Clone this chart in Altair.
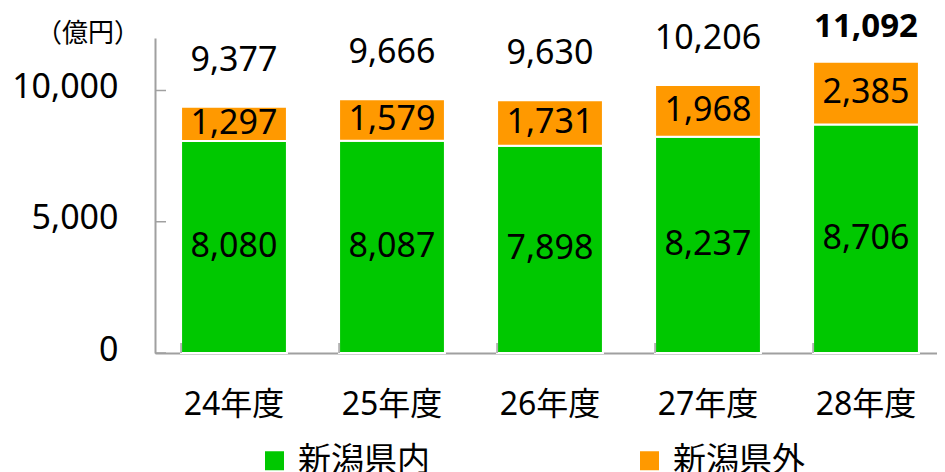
import altair as alt
import pandas as pd

categories = ["24年度", "25年度", "26年度", "27年度", "28年度"]
inside = [8080, 8087, 7898, 8237, 8706]
outside = [1297, 1579, 1731, 1968, 2385]
totals = [9377, 9666, 9630, 10206, 11092]
series = ["新潟県内", "新潟県外"]
colors = ["#00C800", "#FF9900"]
y_ticks = [0, 5000, 10000]
unit = ["（億円）"]

FONT = "Noto Sans, Noto Sans CJK JP"
GRAY = "#A0A0A0"
W, H = 782, 315
XRANGE = 790

rows = []
for c, a, b in zip(categories, inside, outside):
    rows.append({"cat": c, "series": series[0], "value": a, "order": 0})
    rows.append({"cat": c, "series": series[1], "value": b, "order": 1})
df = pd.DataFrame(rows)
tot_df = pd.DataFrame({"cat": categories, "total": totals})
tick_df = pd.DataFrame({"tick": y_ticks})
unit_df = pd.DataFrame({"t": unit})

yscale = alt.Scale(domain=[0, 12000], nice=False)

bars = alt.Chart(df).mark_bar(stroke="white", strokeWidth=2).encode(
    x=alt.X("cat:N", sort=categories,
            scale=alt.Scale(paddingInner=0.33, paddingOuter=0.165, range=[0, XRANGE]),
            axis=alt.Axis(title=None, labelFontSize=32, labelPadding=36, ticks=False,
                          domainColor=GRAY, domainWidth=2, labelAngle=0,
                          labelColor="black", labelFont=FONT)),
    y=alt.Y("value:Q", stack="zero", scale=yscale,
            axis=alt.Axis(values=y_ticks, format=",d", title=None, grid=False, ticks=False,
                          labelFontSize=34, labelPadding=37, labelOffset=-3,
                          domainColor=GRAY, domainWidth=2, labelColor="black",
                          labelFont=FONT)),
    color=alt.Color("series:N", sort=series,
                    scale=alt.Scale(domain=series, range=colors),
                    legend=alt.Legend(title=None, orient="none", legendX=103, legendY=406,
                                      direction="horizontal", symbolType="square",
                                      symbolSize=361, symbolStrokeWidth=0,
                                      labelFontSize=33, labelFont=FONT, labelColor="black",
                                      labelOffset=7, columnPadding=203, padding=0)),
    order=alt.Order("order:Q"),
)

inner = alt.Chart(df).transform_stack(
    stack="value", groupby=["cat"], as_=["y0", "y1"], sort=[alt.SortField("order")]
).transform_calculate(mid="(datum.y0 + datum.y1) / 2").mark_text(
    fontSize=34, font=FONT, color="black", baseline="middle"
).encode(
    x=alt.X("cat:N", sort=categories, title=None),
    y=alt.Y("mid:Q", title=None),
    text=alt.Text("value:Q", format=","),
)

tot_norm = alt.Chart(tot_df).transform_filter(
    alt.datum.cat != categories[-1]
).mark_text(fontSize=34, font=FONT, color="black", baseline="middle", dy=-46).encode(
    x=alt.X("cat:N", sort=categories, title=None),
    y=alt.Y("total:Q", title=None),
    text=alt.Text("total:Q", format=","),
)

tot_bold = alt.Chart(tot_df).transform_filter(
    alt.datum.cat == categories[-1]
).mark_text(fontSize=33, font=FONT, color="black", baseline="middle", dy=-35,
            fontWeight="bold").encode(
    x=alt.X("cat:N", sort=categories, title=None),
    y=alt.Y("total:Q", title=None),
    text=alt.Text("total:Q", format=","),
)

xticks = alt.Chart(tot_df).mark_rule(color=GRAY, strokeWidth=1.5).encode(
    x=alt.X("cat:N", sort=categories, bandPosition=0, title=None),
    y=alt.value(H - 10),
    y2=alt.value(H),
)

yticks = alt.Chart(tick_df).mark_rule(color=GRAY, strokeWidth=1.5).encode(
    y=alt.Y("tick:Q", title=None),
    x=alt.value(0),
    x2=alt.value(11),
)

unit_txt = alt.Chart(unit_df).mark_text(
    fontSize=26, font=FONT, color="black", baseline="middle", align="center"
).encode(
    text="t:N",
    x=alt.value(-67),
    y=alt.value(-4),
)

chart = alt.layer(bars, inner, tot_norm, tot_bold, xticks, yticks, unit_txt).properties(
    width=W, height=H,
    autosize=alt.AutoSizeParams(type="none"),
    padding={"left": 147, "top": 30, "right": 0, "bottom": 119},
).configure_view(stroke=None)

chart.save("out.html", embed_options={"renderer": "svg", "actions": False})
